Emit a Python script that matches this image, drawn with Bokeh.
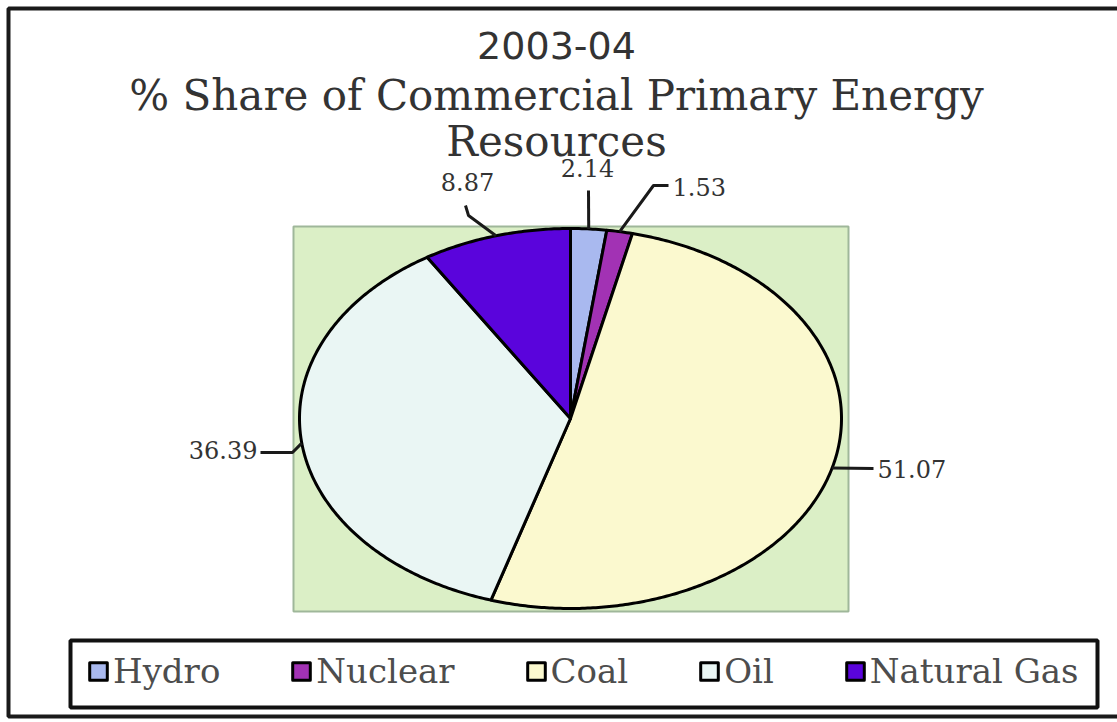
import numpy as np
from bokeh.plotting import figure
from bokeh.models import ColumnDataSource, Range1d, Legend, LegendItem
from bokeh.core.properties import value
from bokeh.embed import file_html
from bokeh.resources import INLINE

# ---------------- data ----------------
categories = ["Hydro", "Nuclear", "Coal", "Oil", "Natural Gas"]
shares = [2.14, 1.53, 51.07, 36.39, 8.87]
share_labels = ["2.14", "1.53", "51.07", "36.39", "8.87"]
title_lines = ["2003-04", "% Share of Commercial Primary Energy", "Resources"]

# ---------------- styles / layout ----------------
colors = ["#a9b9ef", "#a232b4", "#fbf9cf", "#eaf6f4", "#5a04dc"]
W, H = 1117, 722
CX, CY, RX, RY = 570, 418, 271, 190          # pie ellipse (screen px)
PLOT_BOX = dict(left=293, right=848, top=226, bottom=611)
LEGEND_BOX = dict(left=70, right=1097, top=640, bottom=707)
# label anchor positions + leader elbows (layout only)
label_layout = {
    "Hydro":       dict(pos=(587, 167), align="center", elbows=[(588, 190)]),
    "Nuclear":     dict(pos=(672, 186), align="left",   elbows=[(653, 185), (668, 185)]),
    "Coal":        dict(pos=(877, 468), align="left",   elbows=[(873, 468)]),
    "Oil":         dict(pos=(257, 449), align="right",  elbows=[(292, 452), (260, 452)]),
    "Natural Gas": dict(pos=(467, 181), align="center", elbows=[(468, 215), (465, 205)]),
}

p = figure(width=W, height=H, x_range=Range1d(0, W), y_range=Range1d(H, 0),
           output_backend="svg", toolbar_location=None, min_border=0,
           x_axis_location=None, y_axis_location=None)
p.grid.visible = False
p.outline_line_color = None
p.background_fill_color = "white"
p.border_fill_color = "white"

# outer frame
p.quad(left=8, right=W + 10, top=8, bottom=716, fill_color=None,
       line_color="#1a1a1a", line_width=4)

# plot area
p.quad(fill_color="#dbefc6", line_color="#9fb79a", line_width=2, **PLOT_BOX)

# pie slices (ellipse, clockwise from 12 o'clock)
frac = np.array(shares) / np.sum(shares)
ends = np.cumsum(frac) * 2 * np.pi
starts = ends - frac * 2 * np.pi
xs, ys = [], []
for a0, a1 in zip(starts, ends):
    t = np.linspace(a0, a1, max(int((a1 - a0) / 0.01), 2) + 1)
    xs.append([CX] + list(CX + RX * np.sin(t)) + [CX])
    ys.append([CY] + list(CY - RY * np.cos(t)) + [CY])
src = ColumnDataSource(dict(xs=xs, ys=ys, name=categories, color=colors))
r = p.patches("xs", "ys", source=src, fill_color="color", line_color="black",
              line_width=3, line_join="round")

# leader lines and data labels
mid = (starts + ends) / 2
ax = CX + RX * np.sin(mid)
ay = CY - RY * np.cos(mid)
lx, ly = [], []
for i, c in enumerate(categories):
    pts = [(ax[i], ay[i])] + label_layout[c]["elbows"]
    lx.append([q[0] for q in pts])
    ly.append([q[1] for q in pts])
p.multi_line(lx, ly, line_color="#1a1a1a", line_width=3)

for align in ("left", "center", "right"):
    idx = [i for i, c in enumerate(categories) if label_layout[c]["align"] == align]
    if not idx:
        continue
    p.text(x=[label_layout[categories[i]]["pos"][0] for i in idx],
           y=[label_layout[categories[i]]["pos"][1] for i in idx],
           text=[share_labels[i] for i in idx],
           text_align=align, text_baseline="middle",
           text_font=value("DejaVu Serif"), text_font_size="24px",
           text_color="#333333")

# title lines
p.text(x=[556], y=[45], text=[title_lines[0]], text_align="center",
       text_baseline="middle", text_font=value("DejaVu Sans"),
       text_font_size="38px", text_color="#333333")
p.text(x=[556, 556], y=[95, 141], text=title_lines[1:], text_align="center",
       text_baseline="middle", text_font=value("DejaVu Serif"),
       text_font_size="42px", text_color="#333333")

# legend frame
p.quad(fill_color="white", line_color="#111111", line_width=4, **LEGEND_BOX)

legend = Legend(
    items=[LegendItem(label=c, renderers=[r], index=i) for i, c in enumerate(categories)],
    orientation="horizontal", location=(87, 31),
    label_text_font="DejaVu Serif", label_text_font_size="34px",
    label_text_color="#4d4d4d", glyph_width=22, glyph_height=22,
    label_standoff=4, spacing=70, padding=10, margin=0,
    border_line_color=None, background_fill_alpha=0,
)
p.add_layout(legend)

open("out.html", "w").write(file_html(p, INLINE))
